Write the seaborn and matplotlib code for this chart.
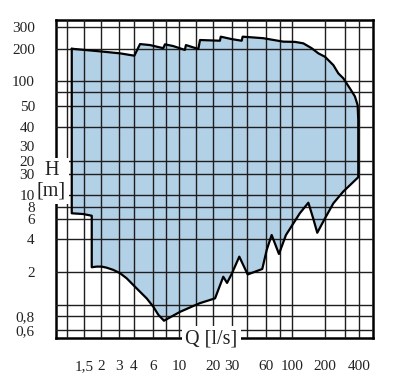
import numpy as np
import matplotlib
matplotlib.use("Agg")
import matplotlib.pyplot as plt
from matplotlib.ticker import NullLocator
import seaborn as sns

# ---------------- data (Q in l/s, H in m) ----------------
q_upper = [1.12, 1.97, 3.06, 4.03, 4.55, 5.63, 7.53, 7.82, 9.07, 11.5, 11.8, 15.6, 16.05,
           23.2, 23.6, 29.8, 36.1, 36.8, 56.6, 85.1, 106.5, 126.8, 151, 174, 200, 237,
           262, 290, 332, 368, 389, 394]
h_upper = [201, 190, 182, 173, 219, 215, 203, 218, 211, 196, 215, 200, 236,
           233, 251, 240, 233, 251, 244, 229, 228, 222, 203, 182, 169, 141,
           118, 106, 86, 73, 61, 46]
q_lower = [394, 290, 237, 200, 170, 156, 141, 118, 99.4, 89.4, 78.3, 67.4, 60.9, 55.4,
           40.6, 34.5, 29.8, 27.0, 24.9, 20.9, 16.05, 14.06, 10.24, 7.65, 6.75, 6.04,
           5.24, 4.55, 3.95, 3.48, 3.06, 2.64, 2.27, 2.03, 1.86, 1.71]
h_lower = [14.1, 10.7, 8.57, 6.1, 4.54, 6.1, 8.66, 6.9, 5.2, 4.34, 2.92, 4.34, 3.18, 2.13,
           1.9, 2.76, 1.92, 1.59, 1.81, 1.15, 1.04, 0.98, 0.87, 0.726, 0.82, 0.966,
           1.15, 1.32, 1.52, 1.75, 1.95, 2.09, 2.19, 2.24, 2.24, 2.21]
q_left = [1.71, 1.47, 1.12]
h_left = [6.49, 6.76, 6.88]

x_grid = [1, 1.5, 2, 3, 4, 6, 8, 10, 15, 20, 30, 40, 60, 80, 100, 200, 300, 400]
x_labels = ['', '1,5', '2', '3', '4', '6', '', '10', '', '20', '30', '', '60', '', '100', '200', '', '400']
y_grid = [300, 200, 100, 80, 60, 40, 20, 15, 10, 8, 6, 4, 2, 1, 0.8, 0.6]
y_labels = ['300', '200', '100', '', '50', '40', '20', '30', '10', '8', '6', '4', '2', '', '0,8', '0,6']
y_extra = [30]
y_extra_labels = ['30']

# ---------------- axis scale (piecewise-log, as printed on the chart) ----------------
W, H = 403, 385
xk_val = [0.79, 1, 1.5, 2, 3, 4, 6, 8, 10, 15, 20, 30, 40, 60, 80, 100, 200, 300, 400, 535]
xk_pos = [55.7, 67, 84, 101, 119, 134, 153, 166, 179, 196, 213, 232, 247, 266, 280, 292, 325, 345, 359, 373.3]
yk_val = [0.5, 0.6, 0.8, 1, 2, 4, 6, 8, 10, 15, 20, 30, 40, 60, 80, 100, 200, 300, 400]
yk_pix = [338, 330, 316, 305, 272, 239, 219, 207, 195, 174, 161, 146, 127, 106, 92, 81, 49, 27, 20]


def make_scale(vals, pos):
    lv = np.log10(np.asarray(vals, float))
    p = np.asarray(pos, float)
    s0 = (p[1] - p[0]) / (lv[1] - lv[0])
    s1 = (p[-1] - p[-2]) / (lv[-1] - lv[-2])
    lv = np.concatenate([[lv[0] - 20], lv, [lv[-1] + 20]])
    p = np.concatenate([[p[0] - 20 * s0], p, [p[-1] + 20 * s1]])

    def fwd(v):
        v = np.asarray(v, float)
        with np.errstate(all='ignore'):
            l = np.log10(np.clip(v, 1e-15, None))
        return np.interp(l, lv, p)

    def inv(q):
        q = np.asarray(q, float)
        return 10 ** np.interp(q, p, lv)
    return fwd, inv


fx = make_scale(xk_val, xk_pos)
fy = make_scale(yk_val, [-v for v in yk_pix])

# ---------------- figure ----------------
sns.set_style("white")
plt.rcParams['font.family'] = ['Liberation Serif', 'DejaVu Serif']

fig = plt.figure(figsize=(W / 100, H / 100), dpi=100)
ax = fig.add_axes([55.7 / W, 1 - 338 / H, (373.3 - 55.7) / W, (338 - 20) / H])

q_all = q_upper + q_lower + q_left
h_all = h_upper + h_lower + h_left
q_closed = q_all + [q_all[0]]
h_closed = h_all + [h_all[0]]

ax.fill(q_all, h_all, color='#b3d1e6', lw=0, zorder=1)
sns.lineplot(x=q_closed, y=h_closed, sort=False, estimator=None, color='black',
             lw=1.6, ax=ax, zorder=4)

ax.set_xscale('function', functions=fx)
ax.set_yscale('function', functions=fy)
ax.set_xlim(xk_val[0], xk_val[-1])
ax.set_ylim(yk_val[0], yk_val[-1])

ax.set_xticks(x_grid)
ax.set_xticklabels(x_labels)
ax.xaxis.set_minor_locator(NullLocator())
ax.set_yticks(y_grid)
ax.set_yticklabels(y_labels)
ax.set_yticks(y_extra, minor=True)
ax.set_yticklabels(y_extra_labels, minor=True)

ax.set_axisbelow(False)
ax.grid(True, which='major', color='#1e1e1e', lw=1.0)
ax.grid(False, which='minor')
ax.tick_params(axis='both', which='both', length=0, labelsize=11, colors='#222222')
ax.tick_params(axis='y', which='both', pad=15)
ax.tick_params(axis='x', which='both', pad=16)
ax.set_xlabel('')
ax.set_ylabel('')

for s in ax.spines.values():
    s.set_visible(True)
    s.set_color('black')
    s.set_linewidth(1.8)

box = dict(boxstyle='square,pad=0.15', fc='white', ec='none')
fig.text(51.5 / W, 1 - 181 / H, 'H\n[m]', ha='center', va='center', fontsize=14.5,
         linespacing=1.1, color='#222222', bbox=box, zorder=10)
fig.text(211.5 / W, 1 - 339 / H, 'Q [l/s]', ha='center', va='center', fontsize=14.5,
         color='#222222', bbox=box, zorder=10)

fig.savefig('out.png', dpi=100, facecolor='white')
